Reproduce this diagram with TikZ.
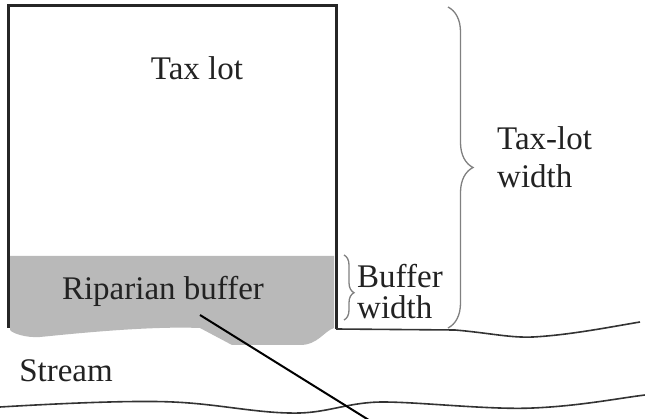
\documentclass[tikz,border=0pt]{standalone}
\usepackage{fontspec}
\setmainfont{Liberation Serif}
\usetikzlibrary{decorations.pathreplacing}
\definecolor{buffergray}{HTML}{B9B9B9}
\definecolor{inkgray}{HTML}{222222}
\definecolor{bracegray}{HTML}{808080}
\tikzset{
  lbl/.style={inner sep=0pt, text=inkgray, font=\fontsize{33}{38}\selectfont},
  lotline/.style={draw=black!85, line width=3pt},
  streamline/.style={draw=black!80, line width=1.6pt},
  bracestyle/.style={draw=bracegray, line width=1.3pt, decorate},
  pointer/.style={draw=black, line width=2pt}
}
\begin{document}
\begin{tikzpicture}[x=1pt,y=-1pt]
\useasboundingbox[fill=white] (0,0) rectangle (645,419);
% riparian buffer fill
\fill[buffergray] (10,256) -- (334,256) -- (334,328)
  .. controls (324,331) and (318,345) .. (300,345) -- (232,345) -- (200,328)
  .. controls (150,326) and (80,333) .. (40,337)
  .. controls (25,338) and (12,333) .. (10,330) -- cycle;
% tax lot outline
\draw[lotline, line join=miter] (8,328) -- (8,6) -- (336,6) -- (336,329);
% stream banks
\draw[streamline] (336,329) -- (455,330) .. controls (490,333) and (510,338) .. (533,337)
  .. controls (570,335) and (610,327) .. (640,322);
\draw[streamline] (0,407) .. controls (50,404) and (130,400) .. (173,402)
  .. controls (220,404) and (260,414) .. (300,413)
  .. controls (330,412) and (350,402) .. (383,402)
  .. controls (420,402) and (490,410) .. (533,408)
  .. controls (580,406) and (620,398) .. (645,395);
% braces
\draw[bracestyle, decoration={brace, amplitude=25pt}] (448,7) -- (448,328);
\draw[bracestyle, decoration={brace, amplitude=10pt, aspect=0.58}] (344,255) -- (344,320);
% labels
\node[lbl] (taxlot) at (197,68) {Tax lot};
\node[lbl] (buffer) at (163,291) {Riparian buffer};
\node[lbl] (stream) at (66,371) {Stream};
\node[lbl, align=left, anchor=west, font=\fontsize{33}{38}\selectfont] (lotwidth) at (497,157) {Tax-lot\\width};
\node[lbl, align=left, anchor=west, font=\fontsize{33}{31}\selectfont] (bufwidth) at (357,292) {Buffer\\width};
% pointer
\coordinate (ptrstart) at (200,315);
\coordinate (ptrend) at (372,422);
\draw[pointer] (ptrstart) -- (ptrend);
\end{tikzpicture}
\end{document}
